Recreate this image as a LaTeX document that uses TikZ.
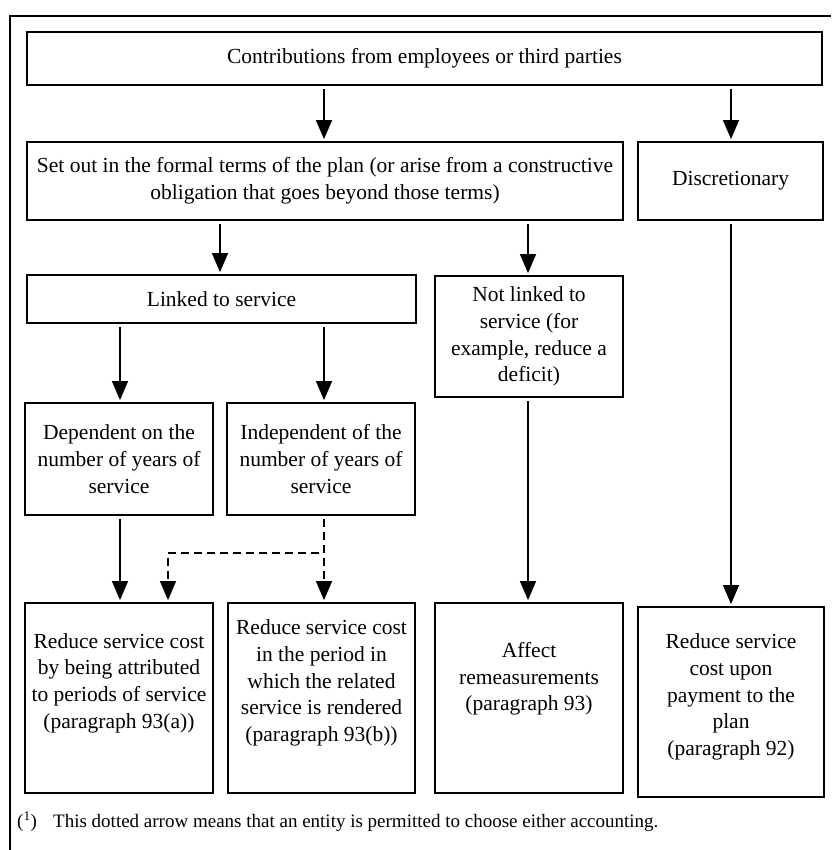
\documentclass[tikz,border=0pt]{standalone}
\usepackage{fontspec}
\setmainfont{Liberation Serif}
\usetikzlibrary{arrows.meta}
\begin{document}
\begin{tikzpicture}[x=1pt,y=-1pt,
  box/.style={draw=black,line width=1.8pt,rectangle,inner sep=0pt,align=center,
    font=\fontsize{21.5}{26.7}\selectfont},
  txt/.style={align=center,inner sep=0pt,font=\fontsize{21.5}{26.7}\selectfont},
  arr/.style={line width=1.3pt,-{Triangle[width=16pt,length=19pt]},shorten <=3pt,shorten >=2pt},
  darr/.style={arr,dash pattern=on 8pt off 5pt},
  frame/.style={line width=1.6pt}]
\useasboundingbox (0,0) rectangle (831,850);
% outer frame
\coordinate (ftl) at (10,16);
\coordinate (ftr) at (831,16);
\coordinate (fbl) at (10,850);
\draw[frame] (fbl) -- (ftl) -- (ftr);
% boxes
\node[box,minimum width=795pt,minimum height=53pt] (top) at (424.5,58.5) {Contributions from employees or third parties};
\node[box,minimum width=596pt,minimum height=78pt] (setout) at (325,181) {Set out in the formal terms of the plan (or arise from a constructive\\obligation that goes beyond those terms)};
\node[box,minimum width=185pt,minimum height=78pt] (disc) at (730.5,181) {Discretionary};
\node[box,minimum width=389pt,minimum height=48pt] (linked) at (221.5,299) {Linked to service};
\node[box,minimum width=188pt,minimum height=121pt] (notlinked) at (529,336.5) {Not linked to\\service (for\\example, reduce a\\deficit)};
\node[box,minimum width=188pt,minimum height=112pt] (dep) at (119,459) {Dependent on the\\number of years of\\service};
\node[box,minimum width=188pt,minimum height=112pt] (indep) at (321,459) {Independent of the\\number of years of\\service};
\node[box,minimum width=188pt,minimum height=190pt,
  label={[txt,yshift=15pt]center:{Reduce service cost\\by being attributed\\to periods of service\\(paragraph 93(a))}}] (r1) at (119,698) {};
\node[box,minimum width=187pt,minimum height=190pt,
  label={[txt,yshift=15pt]center:{Reduce service cost\\in the period in\\which the related\\service is rendered\\(paragraph 93(b))}}] (r2) at (321.5,698) {};
\node[box,minimum width=188pt,minimum height=190pt,
  label={[txt,yshift=19pt]center:{Affect\\remeasurements\\(paragraph 93)}}] (r3) at (529,698) {};
\node[box,minimum width=186pt,minimum height=190pt,
  label={[txt,yshift=5pt]center:{Reduce service\\cost upon\\payment to the\\plan\\(paragraph 92)}}] (r4) at (731,702) {};
% connectors
\draw[arr] (top.south -| 324,0) -- (setout.north -| 324,0);
\draw[arr] (top.south -| 731,0) -- (disc.north -| 731,0);
\draw[arr] (setout.south -| 220,0) -- (linked.north -| 220,0);
\draw[arr] (setout.south -| 528,0) -- (notlinked.north -| 528,0);
\draw[arr] (linked.south -| 120,0) -- (dep.north -| 120,0);
\draw[arr] (linked.south -| 324,0) -- (indep.north -| 324,0);
\draw[arr] (dep.south -| 120,0) -- (r1.north -| 120,0);
\draw[darr] (indep.south -| 324,0) -- (324,553) -- (168,553) -- (r1.north -| 168,0);
\draw[darr] (indep.south -| 324,0) -- (r2.north -| 324,0);
\draw[arr] (notlinked.south -| 528,0) -- (r3.north -| 528,0);
\draw[arr] (disc.south -| 731,0) -- (r4.north -| 731,0);
% footnote
\node[anchor=base west,inner sep=0pt,font=\fontsize{19}{23}\selectfont] (fnmark) at (17,827) {(\textsuperscript{1})};
\node[anchor=base west,inner sep=0pt,font=\fontsize{19}{23}\selectfont] (fntext) at (53,827) {This dotted arrow means that an entity is permitted to choose either accounting.};
\end{tikzpicture}
\end{document}
